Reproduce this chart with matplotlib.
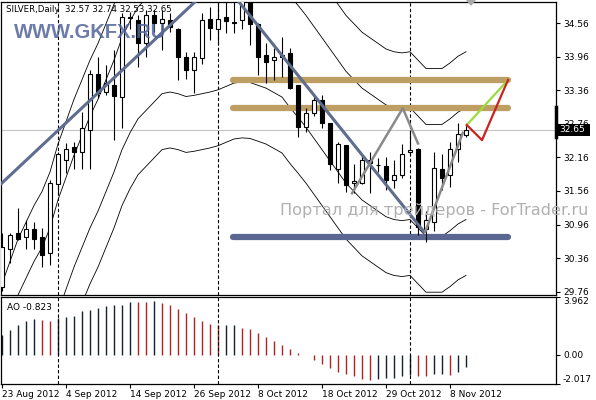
import matplotlib.pyplot as plt
import numpy as np
from matplotlib.patches import Polygon, Rectangle
from matplotlib.lines import Line2D

# ---- data (SILVER, Daily) ----
date_labels = ["23 Aug 2012", "4 Sep 2012", "14 Sep 2012", "26 Sep 2012",
               "8 Oct 2012", "18 Oct 2012", "29 Oct 2012", "8 Nov 2012"]
date_bars = [0, 8, 16, 24, 32, 40, 48, 56]
month_bars = [7, 27, 51]

opens = [29.84, 30.53, 30.80, 30.73, 30.88, 30.73, 30.45, 31.68, 32.11, 32.34,
         32.25, 32.65, 33.65, 33.33, 33.45, 33.24, 34.67, 34.62, 34.21, 34.71,
         34.56, 34.62, 34.45, 33.95, 33.72, 33.93, 34.63, 34.45, 34.68, 34.58,
         34.61, 34.95, 34.54, 33.99, 33.90, 33.95, 34.02, 33.45, 32.70, 32.95,
         33.18, 32.77, 31.95, 32.38, 31.70, 31.70, 32.11, 32.02, 32.00, 31.75,
         31.84, 32.26, 32.31, 30.88, 31.00, 31.96, 31.84, 32.31, 32.57]
highs = [30.80, 30.80, 31.25, 31.04, 31.00, 30.89, 31.75, 32.25, 32.42, 32.43,
         32.97, 33.72, 33.95, 33.81, 34.08, 34.74, 34.76, 34.71, 34.80, 34.80,
         34.80, 34.74, 34.47, 34.04, 34.04, 34.74, 34.85, 35.00, 35.00, 35.00,
         35.00, 35.00, 34.56, 34.20, 34.12, 34.31, 34.11, 33.45, 33.04, 33.24,
         33.27, 32.77, 32.43, 32.38, 32.05, 32.23, 32.26, 32.15, 32.17, 32.11,
         32.40, 32.65, 32.33, 31.21, 32.25, 32.22, 32.44, 32.78, 32.74]
lows = [29.78, 30.27, 30.68, 30.53, 30.53, 30.20, 30.23, 31.48, 31.89, 31.96,
        31.96, 31.96, 33.22, 33.27, 32.47, 32.68, 34.45, 33.78, 33.96, 34.40,
        34.08, 34.40, 33.54, 33.57, 33.31, 33.84, 34.26, 34.17, 34.38, 34.38,
        34.45, 34.17, 33.63, 33.50, 33.54, 33.59, 33.38, 32.52, 32.61, 32.91,
        32.68, 31.93, 31.70, 31.54, 31.52, 31.68, 31.52, 31.90, 31.58, 31.61,
        31.79, 32.20, 30.77, 30.64, 30.85, 31.58, 31.64, 32.07, 32.53]
closes = [30.55, 30.77, 30.71, 30.88, 30.71, 30.41, 31.70, 32.22, 32.31, 32.25,
          32.68, 33.65, 33.31, 33.50, 33.26, 34.67, 34.66, 34.21, 34.71, 34.56,
          34.63, 34.49, 33.95, 33.72, 33.95, 34.61, 34.47, 34.63, 34.60, 34.57,
          34.95, 34.55, 33.95, 33.86, 33.95, 34.00, 33.41, 32.70, 32.95, 33.18,
          32.77, 32.05, 32.40, 31.66, 31.73, 32.11, 32.06, 32.02, 31.75, 31.84,
          32.23, 32.29, 30.92, 31.04, 31.98, 31.80, 32.31, 32.58, 32.65]

# envelope middle line and band offsets
env_mid = [27.9, 28.3, 28.7, 29.0, 29.3, 29.55, 29.9, 30.4, 30.8, 31.2,
           31.55, 31.9, 32.2, 32.55, 32.9, 33.3, 33.6, 33.85, 34.0, 34.15,
           34.3, 34.33, 34.3, 34.25, 34.27, 34.3, 34.33, 34.37, 34.43, 34.49,
           34.51, 34.5, 34.45, 34.4, 34.32, 34.24, 34.05, 33.88, 33.7, 33.5,
           33.3, 33.1, 32.9, 32.7, 32.55, 32.4, 32.3, 32.2, 32.1, 32.05,
           32.03, 32.05, 31.9, 31.75, 31.75, 31.75, 31.85, 31.97, 32.05]
env_offsets = [-2.0, -1.0, 1.0, 2.0]

ao = [1.32, 1.69, 2.05, 2.28, 2.42, 2.41, 2.33, 2.51, 2.56, 2.69,
      2.97, 3.08, 3.20, 3.36, 3.42, 3.43, 3.65, 3.61, 3.60, 3.66,
      3.56, 3.38, 3.15, 2.85, 2.56, 2.33, 2.10, 2.01, 2.02, 2.03,
      1.83, 1.74, 1.46, 1.23, 0.91, 0.64, 0.39, 0.11, -0.05, -0.35,
      -0.62, -0.90, -1.20, -1.36, -1.50, -1.66, -1.73, -1.66, -1.62, -1.59,
      -1.50, -1.43, -1.44, -1.45, -1.36, -1.35, -1.43, -1.20, -0.823]

price_ticks = [34.56, 33.96, 33.36, 32.76, 32.16, 31.56, 30.96, 30.36, 29.76]
ao_range = (-2.017, 3.962)
last_price = 32.65

# hand drawn objects (bar index, price)
trend_up = ([-0.25, 24.4], [31.67, 34.98])
trend_down = ([29.4, 52.75], [34.98, 30.83])
zigzag = ([43.75, 50.1, 52.0], [31.52, 33.04, 32.41])
rebound = ([52.9, 57.6], [30.83, 32.60])
resist_levels = [33.545, 33.04]
support_level = 30.74
level_span = [28.9, 63.25]
green_path = ([58.1, 63.25], [32.74, 33.545])
red_path = ([58.1, 60.0, 63.25], [32.74, 32.47, 33.545])

W, H = 596, 400


def fx(x):
    return x / W


def fy(y):
    return 1 - y / H


plt.rcParams["font.family"] = "DejaVu Sans"
fig = plt.figure(figsize=(W / 100, H / 100), dpi=100, facecolor="white")
ax = fig.add_axes([fx(1), fy(295), fx(556) - fx(1), fy(2) - fy(295)])
ao_ax = fig.add_axes([fx(1), fy(384), fx(556) - fx(1), fy(297) - fy(384)])

x = np.arange(len(closes))
o, h, l, c = map(np.array, (opens, highs, lows, closes))
xlim = (-0.125, 69.25)

# ---- main chart ----
ax.axhline(last_price, color="#c4c4c4", lw=0.8, zorder=1)
for b in month_bars:
    ax.axvline(b, color="black", lw=0.8, ls=(0, (3, 2)), zorder=1)

mid = np.array(env_mid)
for off in env_offsets:
    ax.plot(x, mid + off, color="black", lw=0.6, zorder=2)

for lvl in resist_levels:
    ax.plot(level_span, [lvl, lvl], color="#bd9e63", lw=4.5,
            solid_capstyle="round", zorder=2)
ax.plot(level_span, [support_level] * 2, color="#5a6791", lw=4.5,
        solid_capstyle="round", zorder=2)

ax.vlines(x, l, h, color="black", lw=0.8, zorder=3)
bull = c >= o
body_h = np.maximum(np.abs(c - o), 0.006)
ax.bar(x, body_h, bottom=np.minimum(o, c), width=0.62,
       color=np.where(bull, "white", "black"), edgecolor="black", lw=0.8, zorder=4)

ax.plot(*trend_up, color="#5f6d8e", lw=2.2, zorder=5)
ax.plot(*trend_down, color="#5f6d8e", lw=2.2, zorder=5)
ax.plot(*zigzag, color="#8a8a8a", lw=1.8, zorder=5)
ax.plot(*rebound, color="#8a8a8a", lw=1.8, zorder=5)
ax.plot(*green_path, color="#9bdc3a", lw=1.6, zorder=5)
ax.plot(*red_path, color="#cc2222", lw=1.6, zorder=5)

ax.set_xlim(*xlim)
ax.set_ylim(29.70, 34.94)
ax.set_xticks([])
ax.yaxis.tick_right()
ax.set_yticks(price_ticks)
ax.set_yticklabels([f"{p:.2f}" for p in price_ticks])
ax.tick_params(axis="y", length=3, width=0.8, pad=2, labelsize=6.5, colors="black")
for s in ax.spines.values():
    s.set_linewidth(0.9)

# ---- awesome oscillator ----
ao_arr = np.array(ao)
ao_up = np.r_[True, ao_arr[1:] > ao_arr[:-1]]
ao_ax.vlines(x, 0, ao_arr, colors=np.where(ao_up, "#14202e", "#b22222"), lw=1.0)
for b in month_bars:
    ao_ax.axvline(b, color="black", lw=0.8, ls=(0, (3, 2)))
ao_ax.set_xlim(*xlim)
ao_ax.set_ylim(*ao_range)
ao_ax.yaxis.tick_right()
ao_ax.set_yticks([ao_range[1], 0, ao_range[0]])
ao_ax.set_yticklabels([f"{ao_range[1]:.3f}", "0.00", f"{ao_range[0]:.3f}"])
ao_ax.tick_params(axis="y", length=3, width=0.8, pad=2, labelsize=6.5)
tl = ao_ax.get_yticklabels()
tl[0].set_va("top")
tl[2].set_va("bottom")
ao_ax.set_xticks(date_bars)
ao_ax.set_xticklabels(date_labels, ha="left", fontsize=6.5)
ao_ax.tick_params(axis="x", length=3, width=0.8, pad=1.5)
for s in ao_ax.spines.values():
    s.set_linewidth(0.9)

# ---- texts and decorations ----
fig.text(fx(6), fy(10), "SILVER,Daily  32.57 32.74 32.53 32.65", fontsize=6.2,
         va="center", ha="left")
fig.text(fx(14), fy(33), "WWW.GKFX.RU", fontsize=14.5, fontweight="bold",
         family="Liberation Sans", color="#52649a", alpha=0.85,
         va="center", ha="left")
fig.text(fx(280), fy(211), "Портал для трейдеров - ForTrader.ru", fontsize=11.6,
         color="#b0b0b0", va="center", ha="left", zorder=10)
fig.text(fx(7), fy(307), f"AO {ao[-1]:.3f}", fontsize=6.5, va="center", ha="left")

fig.patches.append(Rectangle((fx(556), fy(136)), fx(34), 12 / H, transform=fig.transFigure,
                             facecolor="black", edgecolor="none", zorder=9))
fig.text(fx(559), fy(130), f"{last_price:.2f}", fontsize=6.5, color="white",
         va="center", ha="left", zorder=10)
fig.lines.append(Line2D([fx(556), fx(556)], [fy(107), fy(137)], transform=fig.transFigure,
                        color="black", lw=2.5))
fig.patches.append(Polygon([(fx(466), fy(0)), (fx(476), fy(0)), (fx(471), fy(6))],
                           transform=fig.transFigure, facecolor="#a8a8a8",
                           edgecolor="none"))

fig.savefig("out.png", dpi=100, facecolor="white")
